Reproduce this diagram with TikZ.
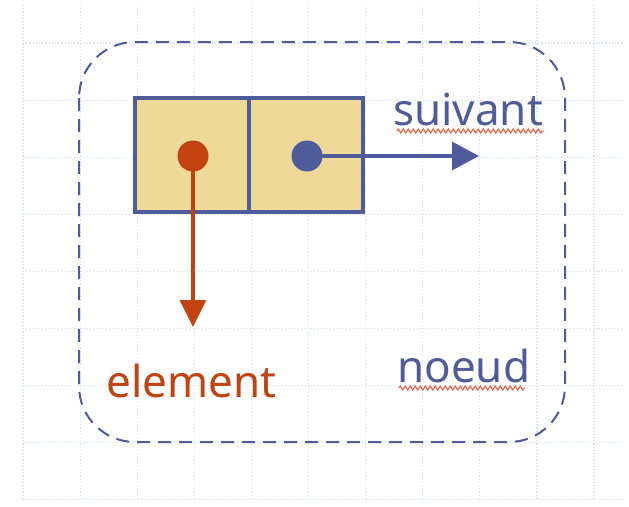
\documentclass[tikz,border=0pt]{standalone}
\usepackage{fontspec}
\setmainfont{Noto Sans}
\usetikzlibrary{arrows.meta,decorations.pathmorphing}
\definecolor{nblue}{HTML}{4F5C9C}
\definecolor{nred}{HTML}{C2430F}
\definecolor{nfill}{HTML}{EED998}
\definecolor{ngrid}{HTML}{D8E2F6}
\definecolor{nsq}{HTML}{F0553A}
\tikzset{
  gridline/.style={ngrid, line width=1.2pt, dotted},
  frame/.style={nblue, line width=2pt, dash pattern=on 13pt off 8pt, rounded corners=56pt},
  cell/.style={draw=nblue, fill=nfill, line width=4pt, minimum width=114pt, minimum height=114pt, inner sep=0pt},
  dotnode/.style={circle, inner sep=0pt, minimum size=31pt},
  lbl/.style={font=\fontsize{44}{50}\selectfont, inner sep=0pt, anchor=base west},
  squig/.style={nsq, line width=1pt, decorate, decoration={zigzag, amplitude=2pt, segment length=5pt}},
}
\begin{document}
\begin{tikzpicture}[x=1pt,y=-1pt]
\useasboundingbox (0,0) rectangle (629,506);
% background grid
\foreach \i in {0,...,10} {
  \draw[gridline] ({23+57.1*\i},5) -- ({23+57.1*\i},501);
}
\foreach \j in {0,...,8} {
  \draw[gridline] (23,{43+57.1*\j}) -- (623,{43+57.1*\j});
}
% dashed node frame
\draw[frame] (79,42) rectangle (565,442);
% cells
\node[cell] (c1) at (192,155) {};
\node[cell] (c2) at (306,155) {};
% dots
\node[dotnode, fill=nred] (d1) at (193,156) {};
\node[dotnode, fill=nblue] (d2) at (307,156) {};
\coordinate (e1) at (193,327);
\coordinate (e2) at (479,156);
\draw[nred, line width=3.5pt, -{Triangle[length=27pt,width=26pt]}] (d1.center) -- (e1);
\draw[nblue, line width=3.5pt, -{Triangle[length=27pt,width=28pt]}] (d2.center) -- (e2);
% labels
\node[lbl, text=nblue] (suiv) at (393,125) {suivant};
\node[lbl, text=nblue] (noeud) at (397,382) {noeud};
\node[lbl, text=nred] (elem) at (106,397) {element};
\draw[squig] (397,131) -- (544,131);
\draw[squig] (399,388) -- (525,388);
\end{tikzpicture}
\end{document}
